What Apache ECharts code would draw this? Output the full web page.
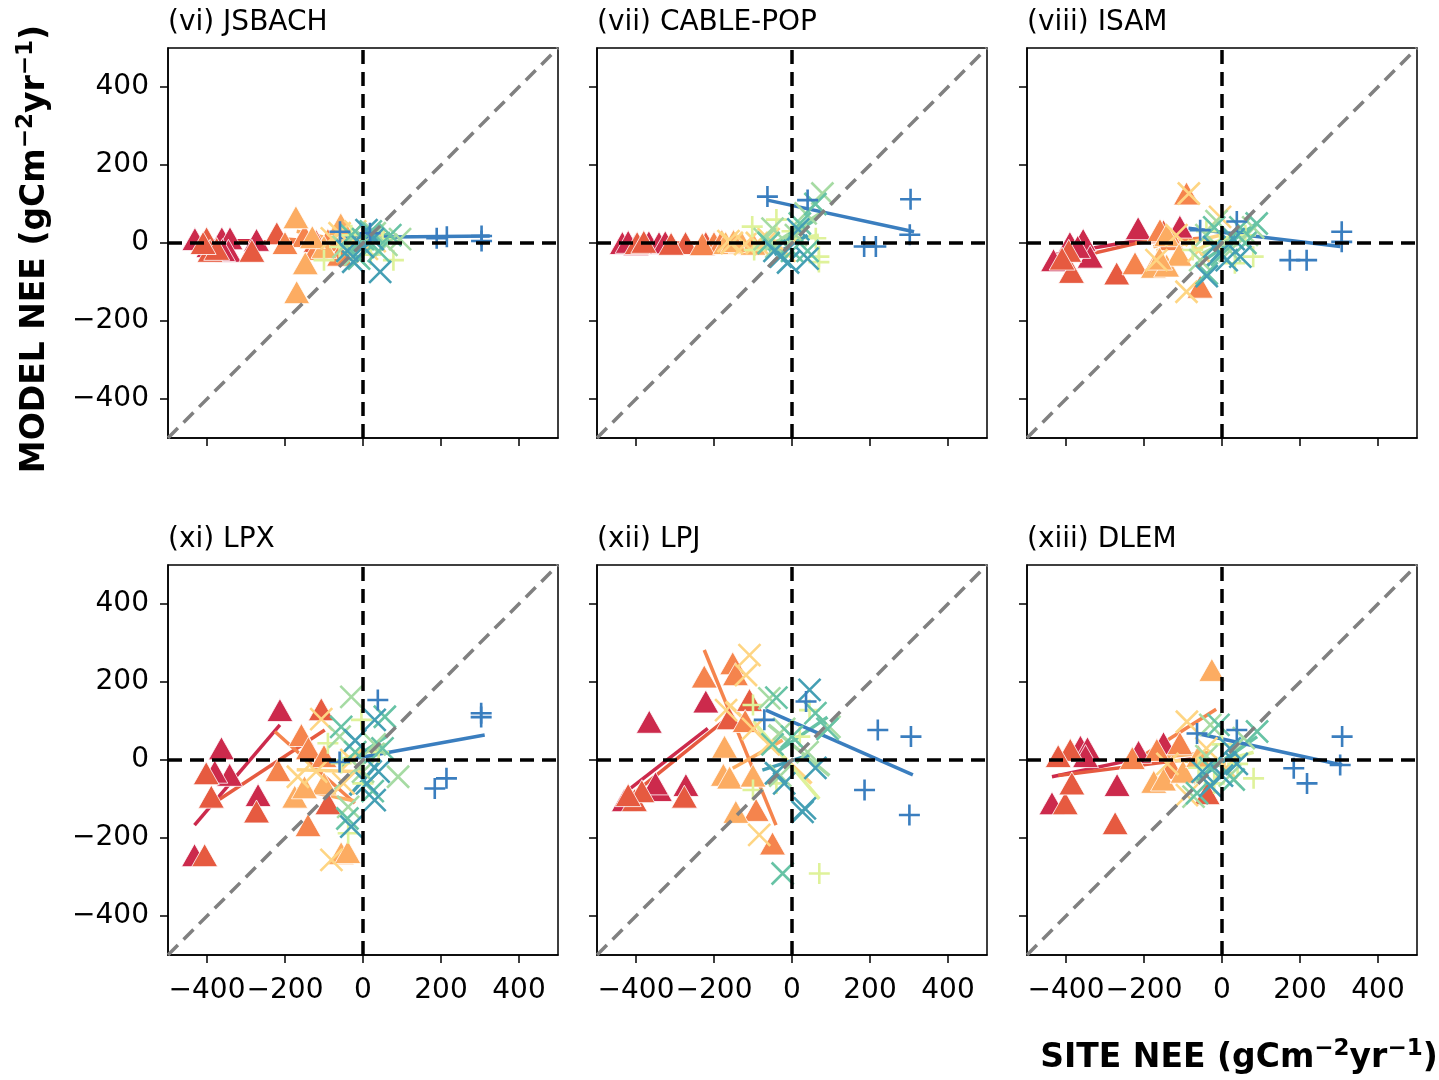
<!DOCTYPE html>
<html>
<head>
<meta charset="utf-8">
<script src="https://cdn.jsdelivr.net/npm/echarts@6/dist/echarts.min.js"></script>
<style>html,body{margin:0;background:#fff}#main{width:1439px;height:1080px}</style>
</head>
<body>
<div id="main"></div>
<script>
// tick labels and panel titles
var ticks = [-400, -200, 0, 200, 400];
var titles = ['(vi) JSBACH', '(vii) CABLE-POP', '(viii) ISAM', '(xi) LPX', '(xii) LPJ', '(xiii) DLEM'];

// one colour / marker per site group
var groupColors = ['#cc2a4c', '#e65a40', '#f5844d', '#fcac62', '#fed583', '#dff29a', '#a6dba3', '#67c3a5', '#449fb4', '#3a7ebf'];
var groupMarkers = ['tri', 'tri', 'tri', 'tri', 'x', 'plus', 'x', 'x', 'x', 'plus'];

// points [site, model] per group, and fitted line [x1, y1, x2, y2] per group
var jsbachPts = [
    [[-431,10],[-362,12],[-341,12],[-345,-20],[-273,8],[-360,-18],[-395,-8]],
    [[-401,12],[-392,-20],[-285,-20],[-221,25],[-375,-15],[-410,0],[-120,5]],
    [[-150,18],[-120,-15],[-90,8],[-200,0],[-60,-30]],
    [[-172,66],[-148,-52],[-170,-126],[-57,48],[-100,-10],[-130,15]],
    [[-80,12],[-40,-22],[-20,30],[10,-15],[-60,25],[30,5]],
    [[-100,-44],[78,-44],[-30,20],[20,-30],[50,10],[-60,-10]],
    [[95,10],[-50,-10],[30,25],[-20,-30],[60,-5],[10,5]],
    [[-30,20],[20,30],[40,-20],[-10,-40],[70,20],[0,10]],
    [[-25,-48],[44,-74],[9,33],[-40,-20],[25,10],[0,-10]],
    [[-59,29],[18,25],[189,12],[215,16],[304,18],[304,5]]
];
var jsbachFits = [[-431,6,-273,6],[-410,4,-110,2],[-200,10,-60,0],[-170,30,-55,5],[-80,5,30,5],
    [-100,-15,78,10],[-50,-5,95,15],[-30,-10,70,25],[-40,-30,44,10],[-60,14,325,18]];

var cablePts = [
    [[-435,0],[-367,2],[-341,0],[-400,-3],[-325,2],[-420,3]],
    [[-397,0],[-273,0],[-221,0],[-380,3],[-310,-2]],
    [[-200,0],[-180,5],[-150,0],[-230,-3]],
    [[-170,0],[-130,2],[-100,-2],[-150,5]],
    [[-163,5],[-154,0],[-120,-3],[-90,0],[-60,10],[-20,-20]],
    [[-102,42],[-97,-18],[61,12],[69,-35],[69,-49],[0,30],[-40,60]],
    [[-50,37],[78,127],[35,76],[-40,-10],[10,20],[-70,10]],
    [[-30,-30],[20,50],[60,100],[-60,0],[40,-20],[0,-20]],
    [[-29,-35],[40,-40],[16,35],[-10,-50],[-45,-20]],
    [[-63,119],[40,110],[304,112],[302,21],[185,-9],[215,-9]]
];
var cableFits = [[-435,2,-325,1],[-397,0,-221,0],[-230,0,-150,2],[-170,0,-100,2],[-163,0,-20,5],
    [-102,-5,69,20],[-70,-18,78,80],[-60,-20,60,60],[-45,-30,40,20],[-63,110,313,29]];

var isamPts = [
    [[-432,-44],[-390,0],[-356,8],[-338,-35],[-215,38],[-108,42],[-370,-10]],
    [[-386,-74],[-393,-20],[-270,-78],[-410,-40],[-150,30]],
    [[-91,127],[-159,33],[-223,-52],[-56,-112],[-130,10]],
    [[-176,-61],[-142,-58],[-142,20],[-110,-30],[-160,-40]],
    [[-85,127],[-168,-44],[-91,-125],[-5,67],[-117,20],[-60,-20]],
    [[80,-35],[-75,-18],[-5,0],[33,-52],[60,20],[-40,30]],
    [[-14,56],[64,21],[-56,-44],[-40,20],[20,-20],[80,40]],
    [[89,50],[47,40],[-39,-78],[0,-30],[-20,40],[60,0]],
    [[12,-44],[47,-35],[-39,-85],[-20,-10],[30,10]],
    [[-56,33],[38,55],[307,29],[307,3],[174,-44],[217,-44]]
];
var isamFits = [[-432,-30,-108,25],[-410,-45,-150,15],[-223,0,-56,12],[-176,-10,-110,10],[-168,-20,-5,20],
    [-75,-20,80,40],[-56,-30,80,40],[-39,-40,89,50],[-39,-60,47,30],[-86,38,303,-9]];

var lpxPts = [
    [[-213,128],[-363,30],[-342,-38],[-269,-90],[-432,-244],[-380,-30]],
    [[-402,-34],[-389,-94],[-273,-132],[-406,-244],[-107,130],[-90,-111]],
    [[-158,64],[-218,-26],[-140,30],[-141,-167],[-100,10]],
    [[-175,-94],[-56,-239],[-39,-236],[-100,-60],[-150,-70]],
    [[-167,-43],[-81,-256],[-107,105],[-30,0],[-120,-30],[-50,-60]],
    [[-90,43],[-4,103],[-56,-8],[-38,-188],[40,20],[0,-60]],
    [[-30,162],[90,-43],[-60,60],[-38,-120],[30,40],[0,-30]],
    [[-56,85],[56,111],[25,-80],[-40,-150],[-20,20],[50,30]],
    [[-20,50],[30,103],[30,-103],[-30,-171],[10,-60],[40,-30]],
    [[38,154],[303,120],[303,110],[184,-73],[214,-47],[-60,-5]]
];
var lpxFits = [[-432,-167,-213,90],[-397,-120,-98,77],[-226,73,-21,-111],[-170,-75,-20,-105],[-170,-25,0,-30],
    [-90,-10,60,40],[-73,-77,56,43],[-60,-20,60,60],[-34,-90,47,0],[-64,-4,312,64]];

var lpjPts = [
    [[-366,98],[-221,150],[-430,-103],[-340,-77],[-272,-64],[-350,-60]],
    [[-404,-103],[-385,-80],[-276,-94],[-161,107],[-109,154],[-420,-90]],
    [[-225,214],[-152,248],[-145,220],[-92,-128],[-50,-214],[-120,100]],
    [[-173,34],[-176,-38],[-160,-45],[-144,-133],[-100,-40]],
    [[-109,269],[-118,218],[-169,128],[-84,-192],[-100,80],[-60,40]],
    [[-100,141],[70,-291],[-100,-77],[-40,-60],[45,128],[20,60]],
    [[-58,158],[96,85],[-20,80],[40,20],[-30,-40]],
    [[-40,160],[-24,-291],[91,80],[0,60],[60,120],[-50,40]],
    [[45,180],[27,-133],[33,-124],[-41,-34],[60,-20],[-20,-60]],
    [[36,150],[-71,103],[220,77],[305,60],[186,-77],[301,-141]]
];
var lpjFits = [[-430,-85,-216,81],[-421,-98,-161,111],[-225,282,-41,-167],[-152,-21,-24,51],[-170,150,50,-60],
    [-100,100,70,-100],[-60,90,96,-40],[-40,20,91,110],[-76,-26,45,13],[-67,128,310,-38]];

var dlemPts = [
    [[-363,34],[-345,30],[-436,-111],[-269,-64],[-214,21],[-150,43],[-350,10]],
    [[-389,26],[-402,-111],[-385,-60],[-274,-162],[-38,-85],[-420,10]],
    [[-167,26],[-108,43],[-230,5],[-130,-20]],
    [[-26,231],[-175,-56],[-150,-50],[-100,-30],[-60,10]],
    [[-90,98],[-90,-90],[-140,-10],[-40,30],[10,-20]],
    [[81,-47],[-60,-20],[0,40],[40,-10],[-20,-60]],
    [[-30,90],[56,56],[-73,-94],[20,-40],[-40,10]],
    [[-9,90],[90,73],[-64,-85],[30,-50],[-30,-20]],
    [[-30,-66],[38,-10],[0,-40],[20,30],[-50,-30]],
    [[-64,68],[38,77],[308,60],[303,-13],[184,-21],[218,-60]]
];
var dlemFits = [[-436,-43,-150,17],[-420,-40,-38,8],[-220,0,-15,130],[-175,5,-26,20],[-140,0,10,-10],
    [-60,-20,81,20],[-73,-60,56,40],[-64,-50,90,60],[-50,-40,38,20],[-64,68,308,-13]];

var panelPts = [jsbachPts, cablePts, isamPts, lpxPts, lpjPts, dlemPts];
var panelFits = [jsbachFits, cableFits, isamFits, lpxFits, lpjFits, dlemFits];

(function() {
    var FONT = 'DejaVu Sans';
    var lefts = [168, 597, 1027];
    var tops = [48, 565];
    var SIZE = 390;
    var CROSS = 'path://M0,0L10,10M10,0L0,10';
    var PLUS = 'path://M5,0L5,10M0,5L10,5';
    var DASH = [14, 8];

    function minus(v) {
        return String(v).replace('-', '\u2212');
    }

    function makeAxis(idx, showLabel, isX) {
        return {
            type: 'value', gridIndex: idx, min: -500, max: 500,
            axisLine: { show: true, onZero: false, lineStyle: { color: '#000', width: 1.5 } },
            axisTick: { show: true, length: 8, customValues: ticks, lineStyle: { color: '#000', width: 1.5 } },
            axisLabel: { show: showLabel, customValues: ticks, formatter: minus, fontSize: 28,
                hideOverlap: false, fontFamily: FONT, color: '#000', margin: isX ? 22 : 19 },
            splitLine: { show: false }
        };
    }

    var grids = [], xAxes = [], yAxes = [], titleList = [], series = [];
    for (var p = 0; p < 6; p++) {
        var col = p % 3, row = Math.floor(p / 3);
        grids.push({ left: lefts[col], top: tops[row], width: SIZE, height: SIZE,
            show: true, borderColor: '#000', borderWidth: 1.5 });
        xAxes.push(makeAxis(p, row == 1, true));
        yAxes.push(makeAxis(p, col == 0, false));
        titleList.push({ text: titles[p], left: lefts[col], top: tops[row] - 39, padding: 0,
            textStyle: { fontSize: 28, fontWeight: 'normal', fontFamily: FONT, color: '#000' } });

        var pts = panelPts[p], fits = panelFits[p];
        for (var g = 0; g < pts.length; g++) {
            var c = groupColors[g];
            var s = {
                type: 'scatter', xAxisIndex: p, yAxisIndex: p, data: pts[g], z: 2
            };
            if (groupMarkers[g] == 'tri') {
                s.symbol = 'triangle';
                s.symbolSize = [26, 23];
                s.itemStyle = { color: c, opacity: 1, borderColor: '#fff', borderWidth: 0.8 };
            } else {
                s.symbol = groupMarkers[g] == 'x' ? CROSS : PLUS;
                s.symbolSize = groupMarkers[g] == 'x' ? 22 : 21;
                s.itemStyle = { color: 'none', opacity: 1, borderColor: c, borderWidth: 2.6 };
            }
            series.push(s);
            var f = fits[g];
            series.push({
                type: 'line', xAxisIndex: p, yAxisIndex: p, data: [[f[0], f[1]], [f[2], f[3]]],
                showSymbol: false, z: 2, lineStyle: { color: c, width: 3.5 }
            });
        }
        // 1:1 line and zero lines
        series.push({ type: 'line', xAxisIndex: p, yAxisIndex: p, data: [[-500, -500], [500, 500]],
            showSymbol: false, z: 5, lineStyle: { color: '#808080', width: 3.5, type: DASH } });
        series.push({ type: 'line', xAxisIndex: p, yAxisIndex: p, data: [[-500, 0], [500, 0]],
            showSymbol: false, z: 5, lineStyle: { color: '#000', width: 3.5, type: DASH } });
        series.push({ type: 'line', xAxisIndex: p, yAxisIndex: p, data: [[0, -500], [0, 500]],
            showSymbol: false, z: 5, lineStyle: { color: '#000', width: 3.5, type: DASH } });
    }

    var unitRich = {
        a: { fontSize: 33, fontWeight: 'bold', fontFamily: FONT, color: '#000', lineHeight: 40 },
        s: { fontSize: 23, fontWeight: 'bold', fontFamily: FONT, color: '#000', padding: [0, 0, 18, 0] }
    };

    var chart = echarts.init(document.getElementById('main'));
    chart.setOption({
        animation: false,
        backgroundColor: '#fff',
        title: titleList,
        grid: grids,
        xAxis: xAxes,
        yAxis: yAxes,
        series: series,
        graphic: [
            { type: 'text', x: 35, y: 249, rotation: Math.PI / 2,
              style: { text: '{a|MODEL NEE (gCm}{s|\u22122}{a|yr}{s|\u22121}{a|)}', rich: unitRich,
                       align: 'center', verticalAlign: 'middle' } },
            { type: 'text', x: 1239, y: 1058,
              style: { text: '{a|SITE NEE (gCm}{s|\u22122}{a|yr}{s|\u22121}{a|)}', rich: unitRich,
                       align: 'center', verticalAlign: 'middle' } }
        ]
    });
})();
</script>
</body>
</html>
